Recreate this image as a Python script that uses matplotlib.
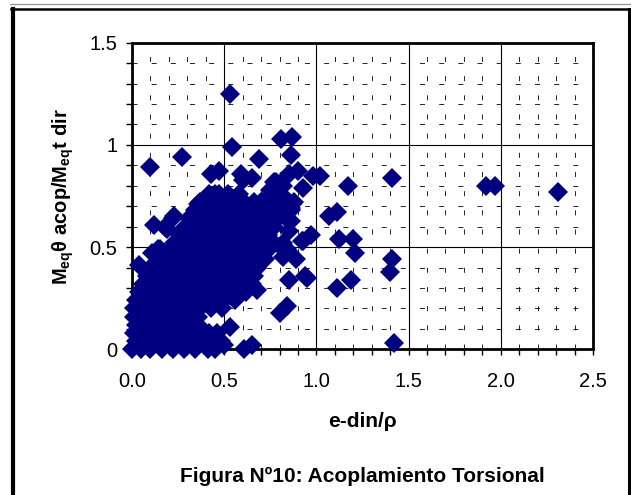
import matplotlib
matplotlib.use('Agg')
import matplotlib.pyplot as plt
from matplotlib.lines import Line2D
from matplotlib.ticker import MultipleLocator, FuncFormatter

plt.rcParams['font.family'] = ['Liberation Sans', 'DejaVu Sans']
plt.rcParams['mathtext.default'] = 'regular'

# dense cluster near the origin (e-din/rho, M ratio)
cluster = [
    (0.42, 0.76), (0.47, 0.76), (0.52, 0.76), (0.58, 0.76),
    (0.37, 0.72), (0.42, 0.72), (0.48, 0.72), (0.54, 0.72), (0.60, 0.72), (0.66, 0.72), (0.71, 0.72), (0.76, 0.72), (0.82, 0.72), (0.88, 0.72),
    (0.34, 0.68), (0.40, 0.68), (0.46, 0.68), (0.52, 0.68), (0.58, 0.68), (0.64, 0.68), (0.70, 0.68), (0.76, 0.68), (0.81, 0.68), (0.86, 0.68),
    (0.31, 0.64), (0.37, 0.64), (0.43, 0.64), (0.49, 0.64), (0.55, 0.64), (0.61, 0.64), (0.67, 0.64), (0.73, 0.64), (0.79, 0.64), (0.84, 0.64),
    (0.29, 0.60), (0.35, 0.60), (0.41, 0.60), (0.47, 0.60), (0.53, 0.60), (0.59, 0.60), (0.65, 0.60), (0.71, 0.60), (0.77, 0.60),
    (0.26, 0.56), (0.32, 0.56), (0.38, 0.56), (0.44, 0.56), (0.50, 0.56), (0.56, 0.56), (0.62, 0.56), (0.68, 0.56), (0.74, 0.56),
    (0.23, 0.52), (0.29, 0.52), (0.35, 0.52), (0.41, 0.52), (0.47, 0.52), (0.53, 0.52), (0.59, 0.52), (0.65, 0.52), (0.71, 0.52), (0.77, 0.52),
    (0.20, 0.48), (0.26, 0.48), (0.32, 0.48), (0.38, 0.48), (0.44, 0.48), (0.50, 0.48), (0.56, 0.48), (0.62, 0.48), (0.68, 0.48), (0.73, 0.48),
    (0.15, 0.44), (0.21, 0.44), (0.27, 0.44), (0.33, 0.44), (0.39, 0.44), (0.45, 0.44), (0.51, 0.44), (0.57, 0.44), (0.63, 0.44), (0.68, 0.44),
    (0.10, 0.40), (0.16, 0.40), (0.22, 0.40), (0.28, 0.40), (0.34, 0.40), (0.40, 0.40), (0.46, 0.40), (0.52, 0.40), (0.58, 0.40), (0.64, 0.40), (0.68, 0.40),
    (0.08, 0.36), (0.14, 0.36), (0.20, 0.36), (0.26, 0.36), (0.32, 0.36), (0.38, 0.36), (0.44, 0.36), (0.50, 0.36), (0.56, 0.36), (0.62, 0.36), (0.66, 0.36),
    (0.06, 0.32), (0.12, 0.32), (0.18, 0.32), (0.24, 0.32), (0.30, 0.32), (0.36, 0.32), (0.42, 0.32), (0.48, 0.32), (0.54, 0.32), (0.60, 0.32), (0.65, 0.32),
    (0.04, 0.28), (0.10, 0.28), (0.16, 0.28), (0.22, 0.28), (0.28, 0.28), (0.34, 0.28), (0.40, 0.28), (0.46, 0.28), (0.52, 0.28), (0.58, 0.28), (0.62, 0.28),
    (0.02, 0.24), (0.08, 0.24), (0.14, 0.24), (0.20, 0.24), (0.26, 0.24), (0.32, 0.24), (0.38, 0.24), (0.44, 0.24), (0.50, 0.24), (0.56, 0.24),
    (0.01, 0.20), (0.07, 0.20), (0.13, 0.20), (0.19, 0.20), (0.25, 0.20), (0.31, 0.20), (0.37, 0.20), (0.43, 0.20), (0.49, 0.20),
    (0.01, 0.16), (0.06, 0.16), (0.12, 0.16), (0.18, 0.16), (0.24, 0.16), (0.30, 0.16), (0.36, 0.16),
    (0.02, 0.12), (0.07, 0.12), (0.13, 0.12), (0.19, 0.12), (0.25, 0.12), (0.31, 0.12), (0.36, 0.12),
    (0.01, 0.08), (0.06, 0.08), (0.12, 0.08), (0.18, 0.08), (0.24, 0.08), (0.30, 0.08), (0.36, 0.08), (0.42, 0.08), (0.46, 0.08),
    (0.02, 0.04), (0.07, 0.04), (0.13, 0.04), (0.19, 0.04), (0.25, 0.04), (0.31, 0.04), (0.37, 0.04), (0.43, 0.04), (0.48, 0.04),
    (0.00, 0.00), (0.05, 0.00), (0.10, 0.00), (0.16, 0.00), (0.22, 0.00), (0.28, 0.00), (0.34, 0.00), (0.41, 0.00), (0.45, 0.00),
]

# scattered points around the cluster
outliers = [
    (0.53, 1.25), (0.54, 0.99), (0.81, 1.03), (0.87, 1.04), (0.10, 0.89), (0.27, 0.94),
    (0.69, 0.93), (0.86, 0.95), (0.43, 0.86), (0.47, 0.87), (0.59, 0.86), (0.65, 0.84),
    (0.60, 0.83), (0.78, 0.82), (0.80, 0.81), (0.90, 0.87), (0.85, 0.86), (0.98, 0.85),
    (1.02, 0.85), (1.17, 0.80), (0.93, 0.79), (0.75, 0.78), (0.82, 0.80), (1.41, 0.84),
    (1.92, 0.80), (1.97, 0.80), (2.31, 0.77), (1.07, 0.65), (1.11, 0.67), (1.12, 0.54),
    (1.20, 0.54), (1.21, 0.47), (0.92, 0.53), (0.97, 0.56), (1.41, 0.44), (1.40, 0.38),
    (1.42, 0.03), (1.19, 0.34), (1.11, 0.30), (0.85, 0.34), (0.94, 0.36), (0.95, 0.35),
    (0.89, 0.44), (0.82, 0.45), (0.84, 0.49), (0.83, 0.48), (0.80, 0.18), (0.84, 0.21),
    (0.53, 0.11), (0.61, 0.00), (0.65, 0.02), (0.50, 0.02), (0.85, 0.58), (0.86, 0.63),
    (0.71, 0.55), (0.68, 0.29), (0.67, 0.45), (0.72, 0.44), (0.22, 0.64), (0.23, 0.65),
    (0.12, 0.61), (0.18, 0.60), (0.19, 0.59), (0.04, 0.41), (0.11, 0.47), (0.15, 0.49),
    (0.14, 0.49), (0.16, 0.45), (0.18, 0.43), (0.37, 0.71), (0.43, 0.75), (0.86, 0.69),
    (0.87, 0.71), (0.85, 0.63), (0.82, 0.52), (0.93, 0.53), (0.36, 0.71), (0.45, 0.76),
    (0.62, 0.71), (0.70, 0.72), (0.77, 0.82), (0.82, 0.75), (0.87, 0.71),
]

x_label = 'e-din/ρ'
y_label = 'M$_{eq}$θ acop/M$_{eq}$t dir'
caption = 'Figura Nº10: Acoplamiento Torsional'

fig = plt.figure(figsize=(6.31, 4.95), dpi=100)
L, R, T, B = 132 / 631, 593 / 631, 1 - 42.7 / 495, 1 - 349.3 / 495
ax = fig.add_axes([L, B, R - L, T - B])

xs, ys = zip(*(cluster + outliers))
ax.plot(xs, ys, linestyle='none', marker='D', ms=10.5, color='#000080',
        mew=0, clip_on=False, zorder=5)

ax.set_xlim(0, 2.5)
ax.set_ylim(0, 1.5)
ax.xaxis.set_major_locator(MultipleLocator(0.5))
ax.xaxis.set_minor_locator(MultipleLocator(0.1))
ax.yaxis.set_major_locator(MultipleLocator(0.5))
ax.yaxis.set_minor_locator(MultipleLocator(0.1))
ax.xaxis.set_major_formatter(FuncFormatter(lambda v, p: f'{v:.1f}'))
ax.yaxis.set_major_formatter(FuncFormatter(lambda v, p: f'{v:g}'))

ax.set_axisbelow(True)
ax.grid(which='major', color='black', lw=0.8)
ax.grid(which='minor', color='black', lw=0.6, linestyle=(0, (6, 17)))
for s in ax.spines.values():
    s.set_linewidth(2)

ax.tick_params(which='both', direction='out', width=1, length=4, top=False, right=False)
ax.tick_params(axis='both', labelsize=14.5)
ax.tick_params(axis='x', pad=12)
ax.tick_params(axis='y', pad=6.5)

cx = (L + R) / 2
fig.text(cx, 1 - 426.7 / 495, x_label, ha='center', va='baseline', fontsize=15, fontweight='bold')
fig.text(63 / 631, 1 - 196.5 / 495, y_label, ha='center', va='center', rotation=90,
         fontsize=14.5, fontweight='bold')
fig.text(cx, 1 - 481.7 / 495, caption, ha='center', va='baseline', fontsize=15, fontweight='bold')

# outer frame
top = 1 - 9 / 495
fig.add_artist(Line2D([10 / 631, 1], [1 - 4 / 495] * 2, transform=fig.transFigure, color='#999999', lw=1))
fig.add_artist(Line2D([12.5 / 631] * 2, [0, top], transform=fig.transFigure, color='black', lw=3))
fig.add_artist(Line2D([11 / 631, 629 / 631], [top] * 2, transform=fig.transFigure, color='black', lw=1.8))
fig.add_artist(Line2D([628.5 / 631] * 2, [0, top], transform=fig.transFigure, color='black', lw=2.2))

fig.savefig('out.png', dpi=100)
